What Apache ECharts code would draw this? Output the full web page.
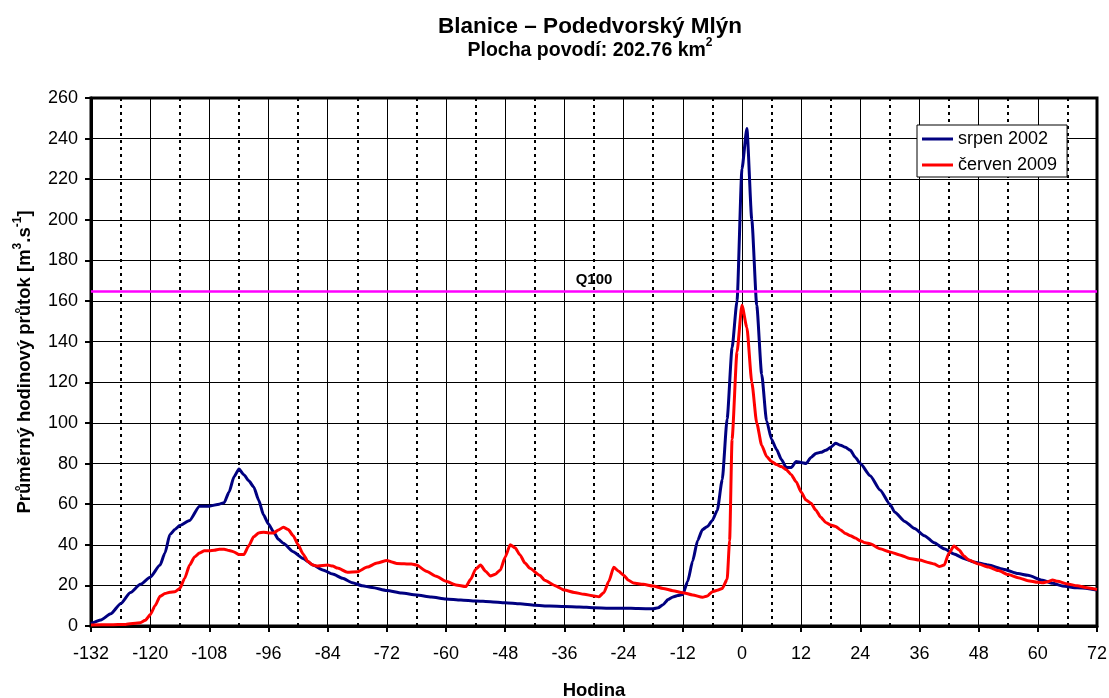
<!DOCTYPE html>
<html>
<head>
<meta charset="utf-8">
<script src="https://cdn.jsdelivr.net/npm/echarts@6/dist/echarts.min.js"></script>
<style>
  html, body { margin: 0; padding: 0; background: #fff; }
  #chart { width: 1109px; height: 698px; }
</style>
</head>
<body>
<div id="chart"></div>
<script>
// Hodinové průtoky – srpen 2002 (hodiny vůči kulminaci)
const blueHours = [-132,-130,-128,-126,-124,-122,-120,-118,-117,-116,-115,-114,-112,-110,-108,-106,-105,-104,-103,-102,-101,-100,-99,-98,-97,-96,-95,-94,-93,-91,-89,-87,-85,-83,-81,-79,-77,-75,-72,-69,-66,-63,-60,-57,-54,-51,-48,-45,-42,-39,-36,-33,-30,-27,-24,-21,-18,-17,-16,-15,-14,-13,-12,-11,-10,-9,-8,-7,-6,-5,-4,-3,-2,-1,0,1,2,3,4,5,6,7,8,9,10,11,12,13,14,15,16,17,18,19,20,21,22,23,24,26,28,30,31,33,35,37,39,41,43,45,47,50,53,56,58,61,63,65,68,70,72];
const blueFlow = [1.2,3,6,11,16.5,20.5,24,30,36,45,47.5,49.5,52,59,59,60,60.7,66,73.5,77.3,74.5,71.5,68.5,62,54.6,50.2,46.4,42.7,40.7,36.6,33.3,30,27.6,25.6,23.5,21.3,19.8,19,17.5,16.2,15.3,14.3,13.3,12.8,12.3,12,11.5,11,10.2,9.8,9.6,9.4,9,8.8,8.8,8.6,8.5,9,10.5,13,14.3,15,15.5,22,32,42,47.5,49,52,57,72,102,137,160,225,245,200,158,124,101,92,87,82,78,78,81,80.5,80,83,85,85.5,86.5,88,90,89,88,86.5,83,80,74,67,60,56,51.5,48,44.5,41,38,35.5,33.3,31.5,30,28,25.8,25,22.5,21,19.7,18.8,18.5,17.7];

// Hodinové průtoky – červen 2009
const redHours = [-132,-128,-125,-122,-121,-120,-119,-118,-117,-116,-115,-114,-113,-112,-111,-110,-109,-108,-107,-106,-105,-104,-103,-102,-101,-100,-99,-98,-97,-96,-95,-94,-93,-92,-91,-90,-89,-88,-87,-86,-84,-83,-82,-80,-78,-76,-74,-72,-71,-70,-67,-66,-64,-62,-60,-58,-56,-55,-54,-53,-52,-51,-50,-49,-48,-47,-46,-45,-44,-43,-41,-40,-38,-36,-34,-32,-30,-29,-28,-27,-26,-25,-24,-23,-22,-20,-18,-16,-14,-12,-10,-8,-7,-6,-5,-4,-3,-2.5,-2,-1,0,1,2,3,4,5,6,7,8,9,10,11,12,13,14,15,16,17,18,19,20,21,22,23,24,25,26,28,30,32,34,36,38,39,40,41,42,43,44,45,46,48,50,52,54,56,58,60,61,62,63,64,66,68,70,72];
const redFlow = [0.5,0.6,0.8,1.6,2.8,5.5,10,14.6,16,16.6,16.9,18.5,23.5,30,34,36,37,37.1,37.3,37.8,37.8,37.2,36.5,35.2,35.2,39.5,44,45.8,46.2,45.8,45.8,47.3,48.6,47.5,44.5,40,35.5,31.7,30,29.5,30,29.5,28.5,26.5,26.7,29,31,32.3,31.5,30.8,30.5,30,27,24.5,22,20.2,19.4,23,28,30,27,24.6,25.5,27.6,34,40,38.5,35,31,28.4,25,22.5,20,17.7,16.5,15.6,14.8,14.4,16.5,22,28.9,27,25,22.5,21.2,20.5,19.7,18.5,17.4,16.4,15.3,14.1,14.8,16.9,17.6,18.5,23,42,92,135,158,147,120,100,89,83.5,81,79.5,78.5,77,74.5,71,66,62,60.5,57,53.5,51,49.7,49,47.3,45.5,44.5,43.3,42,41,40.5,38,36.5,35,33.3,32.5,31.2,30.5,29.3,30,36,39.4,37.5,34.5,32.5,30.5,29,27.3,25.3,23.8,22.3,21.5,21.3,21.8,22.6,22,20.7,19.8,18.8,18];

// Stoletý průtok Q100
const q100 = 165;
const q100Label = 'Q100';

const seriesNames = ['srpen 2002', 'červen 2009'];
const seriesColors = ['#000080', '#FF0000'];
const xTicks = { min: -132, max: 72, step: 12 };
const yTicks = { min: 0, max: 260, step: 20 };

const FONT = '"Liberation Sans", Arial, sans-serif';

function pairs(hours, values) {
  return hours.map((h, i) => [h, values[i]]);
}

const chart = echarts.init(document.getElementById('chart'), null, { renderer: 'canvas' });

chart.setOption({
  animation: false,
  backgroundColor: '#fff',
  textStyle: { fontFamily: FONT, color: '#000' },
  title: [
    {
      text: 'Blanice – Podedvorský Mlýn',
      left: 585, top: 10, textAlign: 'center',
      textStyle: { fontFamily: FONT, fontSize: 22.5, fontWeight: 'bold', color: '#000' }
    },
    {
      text: '{t|Plocha povodí: 202.76 km}{s|2}',
      left: 585, top: 32, textAlign: 'center',
      textStyle: {
        rich: {
          t: { fontFamily: FONT, fontSize: 19.5, fontWeight: 'bold', color: '#000', lineHeight: 28 },
          s: { fontFamily: FONT, fontSize: 12, fontWeight: 'bold', color: '#000', verticalAlign: 'top' }
        }
      }
    }
  ],
  legend: {
    orient: 'vertical',
    left: 917, top: 125,
    icon: 'rect',
    itemWidth: 31, itemHeight: 3, itemGap: 8,
    padding: [5, 10, 3, 5],
    backgroundColor: '#fff',
    borderColor: '#000', borderWidth: 1,
    textStyle: { fontFamily: FONT, fontSize: 18, color: '#000' },
    data: seriesNames.map((n, i) => ({ name: n, itemStyle: { color: seriesColors[i] } }))
  },
  grid: {
    left: 91, top: 98, right: 12, bottom: 72,
    show: true, borderColor: '#000', borderWidth: 3,
    containLabel: false,
    outerBoundsMode: 'none'
  },
  xAxis: {
    type: 'value',
    min: xTicks.min, max: xTicks.max, interval: xTicks.step,
    name: 'Hodina', nameLocation: 'middle', nameGap: 55,
    nameTextStyle: { fontFamily: FONT, fontSize: 18.5, fontWeight: 'bold', color: '#000' },
    axisLine: { show: true, onZero: false, lineStyle: { color: '#000', width: 3 } },
    axisTick: { show: true, length: 6, lineStyle: { color: '#000', width: 2 } },
    axisLabel: { fontFamily: FONT, fontSize: 18, color: '#000', margin: 19 },
    splitLine: { show: true, lineStyle: { color: '#000', width: 1 } },
    minorTick: { show: false, splitNumber: 2 },
    minorSplitLine: { show: true, lineStyle: { color: '#000', width: 2, type: [3, 4] } }
  },
  yAxis: {
    type: 'value',
    min: yTicks.min, max: yTicks.max, interval: yTicks.step,
    name: '{b|Průměrný hodinový průtok [m}{s|3}{b|.s}{s|-1}{b|]}',
    nameLocation: 'middle', nameRotate: 90, nameGap: 53,
    nameTextStyle: {
      rich: {
        b: { fontFamily: FONT, fontSize: 18.5, fontWeight: 'bold', color: '#000', lineHeight: 26 },
        s: { fontFamily: FONT, fontSize: 12, fontWeight: 'bold', color: '#000', verticalAlign: 'top' }
      }
    },
    axisLine: { show: true, onZero: false, lineStyle: { color: '#000', width: 3 } },
    axisTick: { show: true, length: 6, lineStyle: { color: '#000', width: 2 } },
    axisLabel: { fontFamily: FONT, fontSize: 18, color: '#000', margin: 13 },
    splitLine: { show: true, lineStyle: { color: '#000', width: 1 } }
  },
  series: [
    {
      name: seriesNames[0],
      type: 'line',
      data: pairs(blueHours, blueFlow),
      symbol: 'none', showSymbol: false,
      smooth: 0.2, smoothMonotone: 'x',
      lineStyle: { color: seriesColors[0], width: 3 },
      itemStyle: { color: seriesColors[0] },
      z: 3
    },
    {
      name: seriesNames[1],
      type: 'line',
      data: pairs(redHours, redFlow),
      symbol: 'none', showSymbol: false,
      smooth: 0.2, smoothMonotone: 'x',
      lineStyle: { color: seriesColors[1], width: 3 },
      itemStyle: { color: seriesColors[1] },
      z: 4,
      markLine: {
        silent: true,
        symbol: 'none',
        data: [{ yAxis: q100 }],
        lineStyle: { color: '#FF00FF', width: 2.5, type: 'solid' },
        label: {
          show: true, position: 'middle', formatter: q100Label, distance: 4,
          fontFamily: FONT, fontSize: 15, fontWeight: 'bold', color: '#000'
        }
      }
    }
  ]
});
</script>
</body>
</html>
